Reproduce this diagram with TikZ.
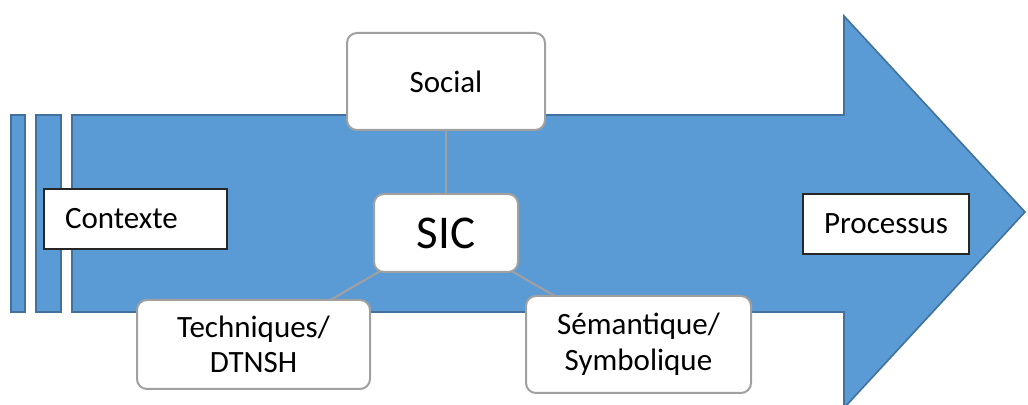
\documentclass[tikz,border=0pt]{standalone}
\usepackage{fontspec}
\setmainfont{Carlito}
\usetikzlibrary{positioning}

\definecolor{flowblue}{HTML}{5B9BD5}
\definecolor{flowedge}{HTML}{41719C}
\definecolor{boxgray}{HTML}{A0A0A0}

\pgfdeclarelayer{flow}
\pgfdeclarelayer{links}
\pgfsetlayers{flow,links,main}

\begin{document}
\begin{tikzpicture}[
	x=0.5pt, y=-0.5pt,
	flow/.style={fill=flowblue, draw=flowedge, line width=0.8pt, line join=miter},
	tag/.style={draw=black!85, fill=white, line width=0.6pt, minimum height=30pt, font=\fontsize{15.5}{18}\selectfont},
	topic/.style={draw=boxgray, fill=white, line width=1pt, rounded corners=5pt, align=center, inner sep=0pt, font=\fontsize{15.5}{17.8}\selectfont},
	link/.style={draw=boxgray, line width=1pt}
]

\def\flowtop{115}
\def\flowbot{312}

\useasboundingbox (0,0) rectangle (1028,405);

% big process arrow
\begin{pgfonlayer}{flow}
	\foreach \xa/\xb in {11/25, 36/61} {
		\draw[flow] (\xa,\flowtop) rectangle (\xb,\flowbot);
	}
	\draw[flow] (72,\flowtop) -- (844,\flowtop) -- (844,16) -- (1025,212)
		-- (844,408) -- (844,\flowbot) -- (72,\flowbot) -- cycle;
\end{pgfonlayer}

% labels on the arrow
\node[tag, text width=70.5pt, inner xsep=10.5pt, align=left] (contexte) at (135.5,219) {Contexte};
\node[tag, minimum width=83pt] (processus) at (886,224) {Processus};

% SIC and its three sides
\node[topic, minimum width=72pt, minimum height=39pt, font=\fontsize{23.5}{27}\selectfont] (sic) at (446,233) {SIC};
\node[topic, minimum width=99pt, minimum height=48.5pt, above=31pt of sic] (social) {Social};
\node[topic, minimum width=116.5pt, minimum height=44.5pt] (technique) at (253.5,344.5) {Techniques/\\DTNSH};
\node[topic, minimum width=112.5pt, minimum height=48.5pt] (semantique) at (638.5,344.5) {Sémantique/\\Symbolique};

\begin{pgfonlayer}{links}
	\draw[link] (sic.center) -- (social.center);
	\draw[link] (sic.center) -- (technique.center);
	\draw[link] (sic.center) -- (semantique.center);
\end{pgfonlayer}

\end{tikzpicture}
\end{document}
